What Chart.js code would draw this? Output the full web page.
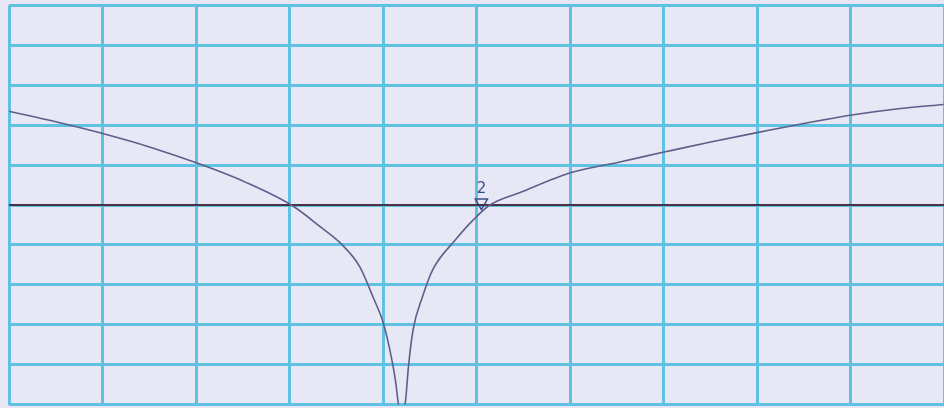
<!DOCTYPE html>
<html>
<head>
<meta charset="utf-8">
<script src="https://cdn.jsdelivr.net/npm/chart.js@4"></script>
<style>
  html, body { margin: 0; padding: 0; background: #e7e7f5; overflow: hidden; }
  #wrap { width: 953px; height: 416px; position: absolute; left: 0; top: -3px; }
</style>
</head>
<body>
<div id="wrap"><canvas id="trace"></canvas></div>
<script>
// horizontal position in divisions (0..10), level in dB
var traceX = [0, 0.51, 1.02, 1.51, 2.01, 2.52, 3.03, 3.33, 3.54, 3.75, 3.89, 4.0, 4.07, 4.13, 4.16, 4.19,
              4.24, 4.27, 4.32, 4.42, 4.53, 4.77, 4.96, 5.14, 5.47, 6.02, 6.53, 6.99, 7.5, 8.01, 8.51, 8.99, 9.53, 9.99];
var traceDb = [-13.25, -14.6, -16.1, -17.75, -19.75, -22.1, -25.1, -27.75, -29.75, -32.75, -36.5, -39.75, -43.1, -46.9, -49.75, -51.9,
               -49.4, -45.25, -40.6, -36.5, -33.1, -29.4, -26.9, -25.0, -23.4, -20.9, -19.6, -18.4, -17.1, -15.9, -14.75, -13.75, -12.9, -12.4];
var refLevel = -25;
var markerX = [5.05];
var markerDb = [-24.7];
var markerLabels = ['2'];

function pairs(xs, ys) {
    var out = [];
    for (var i = 0; i < xs.length; i++) out.push({x: xs[i], y: ys[i]});
    return out;
}

var markerText = {
    id: 'markerText',
    afterDatasetsDraw: function(chart) {
        var meta = chart.getDatasetMeta(2);
        var ctx = chart.ctx;
        ctx.save();
        ctx.fillStyle = '#3b4f86';
        ctx.font = '15px "DejaVu Sans"';
        ctx.textAlign = 'center';
        ctx.textBaseline = 'bottom';
        meta.data.forEach(function(pt, i) {
            ctx.fillText(markerLabels[i], pt.x, pt.y - 6);
        });
        ctx.restore();
    }
};

var ctx = document.getElementById('trace');
var chart = new Chart(ctx, {
    type: 'line',
    data: {
        datasets: [{
            data: pairs(traceX, traceDb),
            borderColor: '#5d5f88',
            borderWidth: 1.6,
            pointRadius: 0,
            cubicInterpolationMode: 'monotone',
            fill: false
        }, {
            data: [{x: 0, y: refLevel}, {x: 10, y: refLevel}],
            borderColor: '#4a3048',
            borderWidth: 2,
            pointRadius: 0,
            fill: false
        }, {
            data: pairs(markerX, markerDb),
            showLine: false,
            pointStyle: 'triangle',
            rotation: 180,
            pointRadius: 7,
            pointBorderWidth: 1.5,
            pointBorderColor: '#3b4f86',
            pointBackgroundColor: 'rgba(0,0,0,0)'
        }]
    },
    options: {
        responsive: true,
        maintainAspectRatio: false,
        animation: false,
        layout: { padding: { left: 9, top: 1, right: 0, bottom: 0 } },
        plugins: { legend: { display: false }, tooltip: { enabled: false } },
        scales: {
            x: {
                type: 'linear', min: 0, max: 10,
                ticks: { display: false, stepSize: 1 },
                grid: { color: '#5fc2e2', lineWidth: 3, drawTicks: false },
                border: { display: false }
            },
            y: {
                min: -50, max: 0,
                ticks: { display: false, stepSize: 5 },
                grid: { color: '#5fc2e2', lineWidth: 3, drawTicks: false },
                border: { display: false }
            }
        }
    },
    plugins: [markerText]
});
</script>
</body>
</html>
